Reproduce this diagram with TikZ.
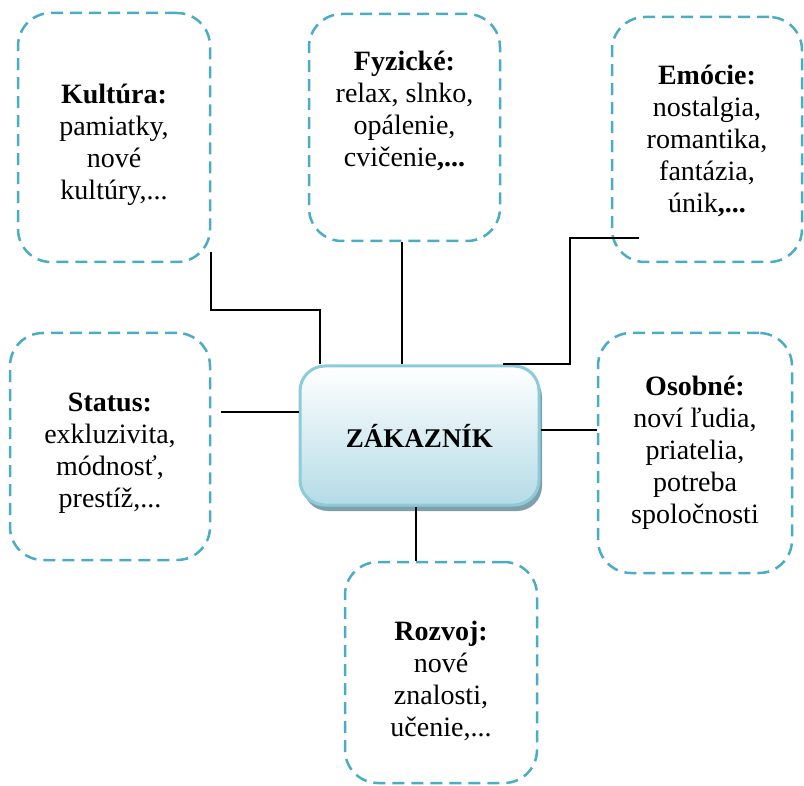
\documentclass[tikz,border=0pt]{standalone}
\usepackage{fontspec}
\setmainfont{Liberation Serif}
\usepackage{tikz}
\usetikzlibrary{shadows}
\definecolor{dashblue}{HTML}{4BACC6}
\definecolor{rimblue}{HTML}{8CCBDA}
\definecolor{fillblue}{HTML}{B4DBE6}
\definecolor{shadegray}{HTML}{7F9FAA}

\begin{document}
\begin{tikzpicture}[x=1pt,y=-1pt,
  grp/.style n args={2}{draw=dashblue,line width=2.5pt,dash pattern=on 12pt off 7pt,rounded corners=33pt,rectangle,minimum width=#1pt,minimum height=#2pt,inner sep=0pt},
  txt/.style={align=center,font=\fontsize{28}{32}\selectfont},
  lnk/.style={line width=2pt}]
\useasboundingbox (0,0) rectangle (804,786);
% center
\node[draw=rimblue,line width=3pt,rounded corners=25pt,top color=white,bottom color=fillblue,
   minimum width=239pt,minimum height=139pt,
   drop shadow={shadow xshift=3pt,shadow yshift=-6pt,fill=shadegray,opacity=1},
   font=\fontsize{27}{32}\selectfont\bfseries] (zak) at (419.5,435.5) {ZÁKAZNÍK};
% motive boxes
\node[grp={192}{249}] (kult) at (114,137.5) {};
\node[grp={191}{227}] (fyz) at (404.5,127.5) {};
\node[grp={190}{245}] (emo) at (707,139.5) {};
\node[grp={200}{227}] (stat) at (110,446.5) {};
\node[grp={194}{240}] (osob) at (695,453) {};
\node[grp={192}{221}] (rozv) at (441,672.5) {};
% texts
\node[txt] (kultt) at ([yshift=-7pt]kult) {\textbf{Kultúra:}\\pamiatky,\\nové\\kultúry,...};
\node[txt] (fyzt) at ([yshift=17pt]fyz) {\textbf{Fyzické:}\\relax, slnko,\\opálenie,\\cvičenie\textbf{,...}};
\node[txt] (emot) at ([yshift=-1.5pt]emo) {\textbf{Emócie:}\\nostalgia,\\romantika,\\fantázia,\\únik\textbf{,...}};
\node[txt] (statt) at ([yshift=-7pt]stat) {\textbf{Status:}\\exkluzivita,\\módnosť,\\prestíž,...};
\node[txt] (osobt) at (osob) {\textbf{Osobné:}\\noví ľudia,\\priatelia,\\potreba\\spoločnosti};
\node[txt] (rozvt) at ([yshift=-8.5pt]rozv) {\textbf{Rozvoj:}\\nové\\znalosti,\\učenie,...};
% connectors
\coordinate (emoend) at ([xshift=28pt,yshift=-98.5pt]emo.west);
\draw[lnk] ([yshift=-115pt]kult.east) -- ++(0,58) -| ([xshift=-99.5pt]zak.north);
\draw[lnk] ([xshift=-2.5pt]fyz.south) -- ([xshift=-2.5pt]fyz.south |- zak.north);
\draw[lnk] ([xshift=83pt]zak.north) -- ++(67.5,0) |- (emoend);
\draw[lnk] ([yshift=23.5pt]zak.west) -- ++(-78,0);
\draw[lnk] ([yshift=5.5pt]zak.east) -- (osob.west |- 0,430);
\draw[lnk] ([xshift=-3.5pt]zak.south) -- ([xshift=-25pt]rozv.north);
\end{tikzpicture}
\end{document}
